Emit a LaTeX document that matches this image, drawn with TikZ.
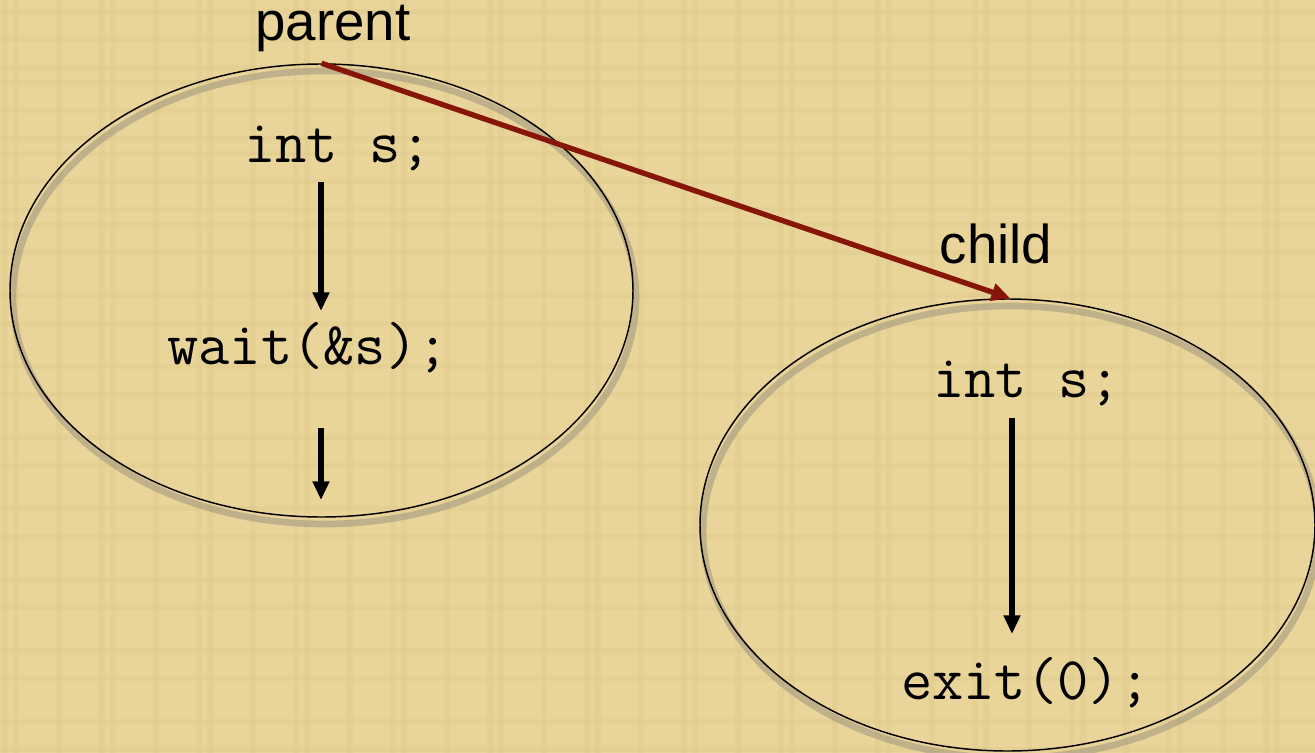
\documentclass[tikz,border=0pt]{standalone}
\usepackage{fontspec}
\setmainfont{Liberation Sans}
\usetikzlibrary{shapes.geometric,arrows.meta}
\definecolor{parchment}{RGB}{233,212,153}
\definecolor{fibre}{RGB}{214,190,128}
\definecolor{forkred}{RGB}{135,22,8}
\tikzset{
  proc/.style={ellipse, draw=black, line width=1.1pt, inner sep=0pt},
  label/.style={inner sep=0pt, font=\fontsize{41}{48}\selectfont},
  code/.style={inner sep=0pt, font=\ttfamily\fontsize{45.5}{52}\selectfont},
  flow/.style={line width=3.8pt, -{Triangle[width=12pt,length=14pt]}},
  forkline/.style={draw=forkred, line width=4pt, -{Triangle[width=13pt,length=14pt]}},
  shade/.style={draw=black!55, draw opacity=0.35, line width=5pt}
}
\begin{document}
\begin{tikzpicture}[x=0.75pt,y=-0.75pt]
  % paper
  \fill[parchment] (0,0) rectangle (1315,753);
  \useasboundingbox (0,0) rectangle (1315,753);
  \foreach \i in {0,...,40} {
    \pgfmathsetmacro{\xx}{mod(\i*97+13,1315)}
    \fill[fibre, opacity=0.18] (\xx,0) rectangle ++(6,753);
  }
  \foreach \i in {0,...,24} {
    \pgfmathsetmacro{\yy}{mod(\i*71+9,753)}
    \fill[fibre, opacity=0.18] (0,\yy) rectangle ++(1315,5);
  }

  % drop shadows of the two processes
  \draw[shade] (324.5,297.5) ellipse [x radius=311.5, y radius=226.5];
  \draw[shade] (1010.5,532) ellipse [x radius=307.5, y radius=226];

  % the two processes
  \node[proc, minimum width=467.25pt, minimum height=339.75pt] (P) at (321.5,290.5) {};
  \node[proc, minimum width=461.25pt, minimum height=339pt] (C) at (1007.5,525) {};

  % labels
  \node[label] (parent) at (333,29) {parent};
  \node[label] (child) at (996,244) {child};

  % parent code
  \node[code] (pint) at (338,148) {int s;};
  \node[code] (pwait) at (308,348) {wait(\&s);};
  % child code
  \node[code] (cint) at (1027,383) {int s;};
  \node[code] (cexit) at (1026,683) {exit(0);};

  % control flow
  \coordinate (p1a) at (321,182);
  \coordinate (p1b) at (321,311);
  \coordinate (p2a) at (321,428);
  \coordinate (p2b) at (321,500);
  \coordinate (c1a) at (1012,418);
  \coordinate (c1b) at (1012,634);
  \draw[flow] (p1a) -- (p1b);
  \draw[flow] (p2a) -- (p2b);
  \draw[flow] (c1a) -- (c1b);

  % fork
  \draw[forkline] (P.north) -- ([xshift=2pt]C.north);
\end{tikzpicture}
\end{document}
